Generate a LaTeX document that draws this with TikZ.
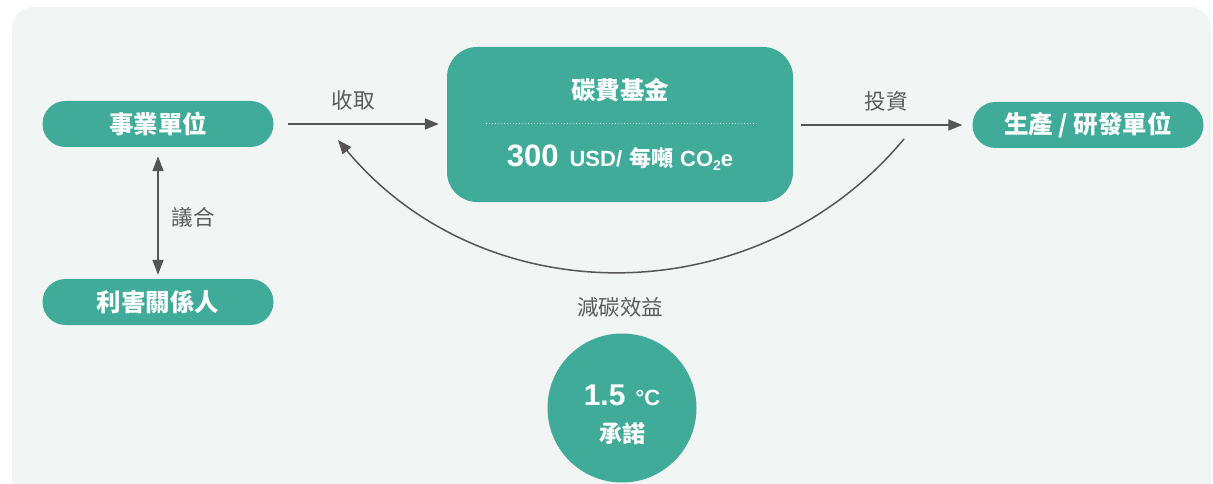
\documentclass[tikz,border=0pt]{standalone}
\usepackage{fontspec}
\setmainfont{Liberation Sans}
\newfontfamily\cjk{Noto Sans CJK TC}
\usetikzlibrary{arrows.meta}
\definecolor{teal1}{HTML}{40AB99}
\definecolor{panel}{HTML}{F1F6F4}
\definecolor{arr}{HTML}{555555}
\definecolor{lbl}{HTML}{5C5C5C}
\begin{document}
\begin{tikzpicture}[x=1pt,y=-1pt,
  pill/.style={fill=teal1, rounded corners=23pt, minimum width=231pt, minimum height=46pt, inner sep=0pt,
    text=white, font=\cjk\bfseries\fontsize{24.5}{28}\selectfont},
  fundbox/.style={fill=teal1, rounded corners=30pt, minimum width=346pt, minimum height=155pt, inner sep=0pt},
  wtext/.style={text=white, inner sep=0pt},
  lab/.style={text=lbl, inner sep=0pt, font=\cjk\fontsize{21.5}{24}\selectfont},
  conn/.style={draw=arr, line width=1.5pt, -{Triangle[length=14pt,width=11pt]}},
  dconn/.style={draw=arr, line width=1.5pt, {Triangle[length=15pt,width=11pt]}-{Triangle[length=15pt,width=11pt]}}]
\useasboundingbox (0,0) rectangle (1213,484);
\clip (0,0) rectangle (1213,484);
\fill[white] (0,0) rectangle (1213,484);
\fill[panel, rounded corners=22pt] (12,7) rectangle (1211,530);

% nodes
\node[pill] (biz) at (158,124) {事業單位};
\node[pill] (stake) at (158,302) {利害關係人};
\node[pill] (prod) at (1088,125) {生產 / 研發單位};
\node[fundbox] (fund) at (620,124.5) {};
\node[wtext, font=\cjk\bfseries\fontsize{24.5}{28}\selectfont] (fundt) at (620,90) {碳費基金};
\coordinate (dl) at (486,124);
\coordinate (dr) at (756,124);
\draw[white, opacity=0.85, line width=1pt, dash pattern=on 1pt off 2pt] (dl) -- (dr);
\node[wtext, font=\bfseries] (price) at (620,158)
  {{\fontsize{31}{32}\selectfont 300}\hspace{11pt}{\fontsize{22}{24}\selectfont USD/\hspace{7pt}{\cjk 每噸}\hspace{7pt}CO\raisebox{-0.35ex}{\fontsize{14}{15}\selectfont 2}e}};

\node[circle, fill=teal1, minimum size=149pt, inner sep=0pt] (goal) at (622,408) {};
\node[wtext, font=\bfseries] (goalt) at (622,395)
  {{\fontsize{30}{32}\selectfont 1.5}\hspace{10pt}{\fontsize{22}{24}\selectfont °C}};
\node[wtext, font=\cjk\bfseries\fontsize{23}{26}\selectfont] (goalc) at (622,434) {承諾};

% connectors
\draw[conn, shorten <=14pt, shorten >=8pt] (biz.east) -- (fund.west |- biz.east);
\draw[conn, shorten <=8pt, shorten >=10pt] (fund.east |- prod.west) -- (prod.west);
\draw[dconn, shorten <=9pt, shorten >=4pt] (biz.south) -- (stake.north);
\coordinate (cs) at (904,139);
\coordinate (ce) at (338,140);
\draw[conn] (cs) .. controls (757,315) and (485,316) .. (ce);

% labels
\node[lab] (lcollect) at (353,100) {收取};
\node[lab] (linvest) at (886,101) {投資};
\node[lab] (lagree) at (193,217) {議合};
\node[lab] (lbenefit) at (620,307) {減碳效益};
\end{tikzpicture}
\end{document}
